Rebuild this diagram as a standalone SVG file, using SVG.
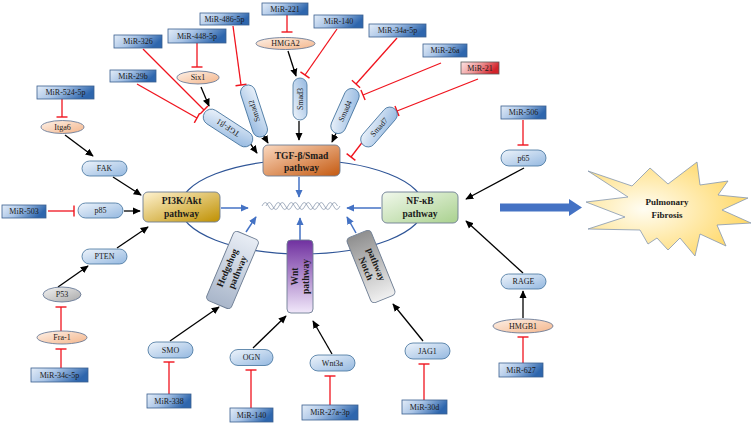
<svg xmlns="http://www.w3.org/2000/svg" width="753" height="426" viewBox="0 0 753 426">
<defs>
<linearGradient id="gMir" x1="0" y1="0" x2="1" y2="0.3"><stop offset="0" stop-color="#e4edf8"/><stop offset="0.45" stop-color="#a9c4e6"/><stop offset="1" stop-color="#2e66ad"/></linearGradient>
<linearGradient id="gRed" x1="0" y1="0" x2="1" y2="0.3"><stop offset="0" stop-color="#fbe3e3"/><stop offset="0.5" stop-color="#ef9a9a"/><stop offset="1" stop-color="#d2232a"/></linearGradient>
<linearGradient id="gPill" x1="0" y1="0" x2="1" y2="1"><stop offset="0" stop-color="#eef4fb"/><stop offset="1" stop-color="#94b8e0"/></linearGradient>
<linearGradient id="gPeach" x1="0" y1="0" x2="1" y2="1"><stop offset="0" stop-color="#fdf1e8"/><stop offset="1" stop-color="#f4b58a"/></linearGradient>
<linearGradient id="gGray" x1="0" y1="0" x2="1" y2="1"><stop offset="0" stop-color="#f4f4f4"/><stop offset="1" stop-color="#a8a8a8"/></linearGradient>
<linearGradient id="gTgf" x1="0" y1="0" x2="1" y2="1"><stop offset="0" stop-color="#fbd9c0"/><stop offset="1" stop-color="#c55a11"/></linearGradient>
<linearGradient id="gPi3k" x1="0" y1="0" x2="1" y2="1"><stop offset="0" stop-color="#fff3d1"/><stop offset="1" stop-color="#bf9000"/></linearGradient>
<linearGradient id="gNf" x1="0" y1="0" x2="1" y2="1"><stop offset="0" stop-color="#f1f8ec"/><stop offset="1" stop-color="#a9d18e"/></linearGradient>
<linearGradient id="gWnt" x1="0" y1="0" x2="0" y2="1"><stop offset="0" stop-color="#7030a0"/><stop offset="1" stop-color="#f1e8fa"/></linearGradient>
<linearGradient id="gHh" x1="0" y1="0" x2="0" y2="1"><stop offset="0" stop-color="#e8edf5"/><stop offset="1" stop-color="#a9b6ca"/></linearGradient>
<linearGradient id="gNotch" x1="0" y1="0" x2="0" y2="1"><stop offset="0" stop-color="#8f8f8f"/><stop offset="1" stop-color="#f0f0f0"/></linearGradient>
<radialGradient id="gStar" cx="0.35" cy="0.5" r="0.7"><stop offset="0" stop-color="#fffdf3"/><stop offset="1" stop-color="#ffd55c"/></radialGradient>
<marker id="arr" viewBox="0 0 10 10" refX="9" refY="5" markerWidth="8" markerHeight="8" markerUnits="userSpaceOnUse" orient="auto"><path d="M0,0.5 L10,5 L0,9.5 z" fill="#000"/></marker>
<marker id="arrB" viewBox="0 0 10 10" refX="9" refY="5" markerWidth="8" markerHeight="8" markerUnits="userSpaceOnUse" orient="auto"><path d="M0,0.5 L10,5 L0,9.5 z" fill="#4472c4"/></marker>
<marker id="tee" viewBox="-2 -6 4 12" refX="0" refY="0" markerWidth="4" markerHeight="12" markerUnits="userSpaceOnUse" orient="auto"><line x1="0" y1="-5.5" x2="0" y2="5.5" stroke="#f0141e" stroke-width="1.4"/></marker>
</defs>
<style>
.mir{fill:url(#gMir);stroke:#3a5f8f;stroke-width:0.8}
.mirr{fill:url(#gRed);stroke:#5a5a5a;stroke-width:0.8}
.pill{fill:url(#gPill);stroke:#41719c;stroke-width:0.8}
.peach{fill:url(#gPeach);stroke:#5b6f8f;stroke-width:0.8}
.gray{fill:url(#gGray);stroke:#5b6f8f;stroke-width:0.8}
.t{font-family:"Liberation Serif",serif;font-size:8px;fill:#1a1a1a;text-anchor:middle}
.pw{font-family:"Liberation Serif",serif;font-weight:bold;font-size:9.5px;fill:#1a1a1a;text-anchor:middle}
.act{stroke:#000;stroke-width:1.3;fill:none;marker-end:url(#arr)}
.inh{stroke:#f0141e;stroke-width:1.3;fill:none;marker-end:url(#tee)}
.blu{stroke:#4472c4;stroke-width:1.5;fill:none;marker-end:url(#arrB)}
.box{stroke:#6d7d93;stroke-width:0.9}
</style>
<rect width="753" height="426" fill="#fff"/>

<ellipse id="ring" cx="302" cy="207" rx="122" ry="47" fill="none" stroke="#2f5597" stroke-width="1.2"/>

<g id="wave" fill="none" stroke="#7f8fa6" stroke-width="0.7">
<path d="M262,206 q3.25,-7 6.5,0 t6.5,0 t6.5,0 t6.5,0 t6.5,0 t6.5,0 t6.5,0 t6.5,0 t6.5,0 t6.5,0 t6.5,0 t6.5,0"/>
<path d="M266,206 q3.25,-7 6.5,0 t6.5,0 t6.5,0 t6.5,0 t6.5,0 t6.5,0 t6.5,0 t6.5,0 t6.5,0 t6.5,0 t6.5,0"/>
</g>

<g id="connectors">
<path class="act" d="M65,135 L93,156"/>
<path class="act" d="M113,177 L141,195"/>
<path class="act" d="M124,211 L140,211"/>
<path class="act" d="M117,248 L148,227"/>
<path class="act" d="M58,287 L88,266"/>
<path class="act" d="M201,87 L209,106"/>
<path class="act" d="M247,139 L257,153"/>
<path class="act" d="M261,131 L268,143"/>
<path class="act" d="M288,51 L296,76"/>
<path class="act" d="M299,121 L299,140"/>
<path class="act" d="M338,129 L332,142"/>
<path class="act" d="M524,168 L466,199"/>
<path class="act" d="M523,273 L466,221"/>
<path class="act" d="M523,318 L523,291"/>
<path class="act" d="M170,341 L219,307"/>
<path class="act" d="M253,348 L286,316"/>
<path class="act" d="M332,354 L313,321"/>
<path class="act" d="M423,341 L393,304"/>

<path class="inh" d="M62,99 L62,117"/>
<path class="inh" d="M137,84 L197,118"/>
<path class="inh" d="M143,49 L204,110"/>
<path class="inh" d="M197,43 L197,67"/>
<path class="inh" d="M233,26 L241,85"/>
<path class="inh" d="M287,15 L287,32"/>
<path class="inh" d="M337,29 L305,75"/>
<path class="inh" d="M397,38 L356,84"/>
<path class="inh" d="M441,63 L363,95"/>
<path class="inh" d="M478,79 L397,111"/>
<path class="inh" d="M364,140 L351,157"/>
<path class="inh" d="M523,120 L523,145"/>
<path class="inh" d="M48,211 L74,211"/>
<path class="inh" d="M61,368 L61,349"/>
<path class="inh" d="M61,331 L61,307"/>
<path class="inh" d="M169,394 L169,362"/>
<path class="inh" d="M251,408 L251,370"/>
<path class="inh" d="M330,405 L330,376"/>
<path class="inh" d="M424,400 L424,364"/>
<path class="inh" d="M523,363 L523,337"/>

<path class="blu" d="M299,177 L299,197"/>
<path class="blu" d="M221,208 L248,208"/>
<path class="blu" d="M381,208 L347,208"/>
<path class="blu" d="M300,240 L300,218"/>
<path class="blu" d="M246,232 L256,217"/>
<path class="blu" d="M356,233 L347,217"/>
<polygon points="500,203.5 569,203.5 569,199 582,207.5 569,216 569,211.5 500,211.5" fill="#4472c4"/>
</g>

<!-- pathway boxes -->
<g id="tgf"><rect class="box" x="263" y="145" width="77" height="31" rx="5" fill="url(#gTgf)"/><text class="pw" x="301.5" y="158.5">TGF-β/Smad</text><text class="pw" x="301.5" y="171">pathway</text></g>
<g id="pi3k"><rect class="box" x="143" y="192" width="77" height="30" rx="5" fill="url(#gPi3k)"/><text class="pw" x="181.5" y="204">PI3K/Akt</text><text class="pw" x="181.5" y="216.5">pathway</text></g>
<g id="nfkb"><rect class="box" x="382" y="192" width="76" height="31" rx="5" fill="url(#gNf)"/><text class="pw" x="420" y="204">NF-κB</text><text class="pw" x="420" y="216.5">pathway</text></g>
<g id="wnt" transform="translate(300,276.5)"><rect class="box" x="-13" y="-36.5" width="26" height="73" rx="4" fill="url(#gWnt)"/><g transform="rotate(-90)"><text class="pw" x="0" y="-2.5">Wnt</text><text class="pw" x="0" y="8.5">pathway</text></g></g>
<g id="hedgehog" transform="translate(232.5,270) rotate(23)"><rect class="box" x="-13.5" y="-37.5" width="27" height="75" rx="4" fill="url(#gHh)"/><g transform="rotate(-90)"><text class="pw" x="0" y="-2.5">Hedgehog</text><text class="pw" x="0" y="8.5">pathway</text></g></g>
<g id="notch" transform="translate(371,266.5) rotate(-22)"><rect class="box" x="-13" y="-35" width="26" height="70" rx="4" fill="url(#gNotch)"/><g transform="rotate(90)"><text class="pw" x="0" y="-2.5">pathway</text><text class="pw" x="0" y="8.5">Notch</text></g></g>

<g id="fibrosis"><polygon points="588,171 632,186 650,168 668,184 697,162 700,185 728,181 718,195 748,198 722,210 751,223 717,225 726,246 700,234 695,256 680,238 668,250 657,238 648,244 640,230 588,229 625,217 586,202 628,197" fill="url(#gStar)" stroke="#8497b0" stroke-width="0.8"/><text class="pw" x="667" y="205" style="font-size:9px">Pulmonary</text><text class="pw" x="667" y="218" style="font-size:9px">Fibrosis</text></g>

<!-- miRNA boxes -->
<g id="mir524"><rect class="mir" x="37" y="86" width="57" height="13"/><text class="t" x="65.5" y="95.3">MiR-524-5p</text></g>
<g id="mir29b"><rect class="mir" x="110" y="70" width="46" height="12"/><text class="t" x="133" y="78.8">MiR-29b</text></g>
<g id="mir326"><rect class="mir" x="114" y="35" width="48" height="13"/><text class="t" x="138" y="44.3">MiR-326</text></g>
<g id="mir448"><rect class="mir" x="168" y="29" width="58" height="14"/><text class="t" x="197" y="38.8">MiR-448-5p</text></g>
<g id="mir486"><rect class="mir" x="200" y="13" width="49" height="12"/><text class="t" x="224.5" y="21.8">MiR-486-5p</text></g>
<g id="mir221"><rect class="mir" x="262" y="3" width="46" height="12"/><text class="t" x="285" y="11.8">MiR-221</text></g>
<g id="mir140a"><rect class="mir" x="314" y="15" width="49" height="13"/><text class="t" x="338.5" y="24.3">MiR-140</text></g>
<g id="mir34a"><rect class="mir" x="369" y="24" width="57" height="13"/><text class="t" x="397.5" y="33.3">MiR-34a-5p</text></g>
<g id="mir26a"><rect class="mir" x="423" y="44" width="44" height="13"/><text class="t" x="445" y="53.3">MiR-26a</text></g>
<g id="mir21"><rect class="mirr" x="461" y="62" width="38" height="12"/><text class="t" x="480" y="70.8">MiR-21</text></g>
<g id="mir506"><rect class="mir" x="501" y="106" width="45" height="13"/><text class="t" x="523.5" y="115.3">MiR-506</text></g>
<g id="mir503"><rect class="mir" x="2" y="205" width="44" height="13"/><text class="t" x="24" y="214.3">MiR-503</text></g>
<g id="mir34c"><rect class="mir" x="31" y="368" width="57" height="14"/><text class="t" x="59.5" y="377.8">MiR-34c-5p</text></g>
<g id="mir338"><rect class="mir" x="147" y="394" width="44" height="14"/><text class="t" x="169" y="403.8">MiR-338</text></g>
<g id="mir140b"><rect class="mir" x="230" y="408" width="43" height="14"/><text class="t" x="251.5" y="417.8">MiR-140</text></g>
<g id="mir27a"><rect class="mir" x="302" y="405" width="56" height="15"/><text class="t" x="330" y="415.3">MiR-27a-3p</text></g>
<g id="mir30d"><rect class="mir" x="402" y="400" width="45" height="14"/><text class="t" x="424.5" y="409.8">MiR-30d</text></g>
<g id="mir627"><rect class="mir" x="499" y="363" width="44" height="14"/><text class="t" x="521" y="372.8">MiR-627</text></g>

<!-- protein pills -->
<g id="fak"><rect class="pill" x="82" y="161" width="45" height="15" rx="7.5"/><text class="t" x="104.5" y="171.3">FAK</text></g>
<g id="p85"><rect class="pill" x="78" y="203" width="45" height="15" rx="7.5"/><text class="t" x="100.5" y="213.3">p85</text></g>
<g id="pten"><rect class="pill" x="82" y="249" width="45" height="15" rx="7.5"/><text class="t" x="104.5" y="259.3">PTEN</text></g>
<g id="p65"><rect class="pill" x="501" y="150" width="45" height="16" rx="8"/><text class="t" x="523.5" y="160.8">p65</text></g>
<g id="rage"><rect class="pill" x="501" y="274" width="45" height="15" rx="7.5"/><text class="t" x="523.5" y="284.3">RAGE</text></g>
<g id="smo"><rect class="pill" x="148" y="342" width="45" height="16" rx="8"/><text class="t" x="170.5" y="352.8">SMO</text></g>
<g id="ogn"><rect class="pill" x="230" y="349.5" width="43" height="16" rx="8"/><text class="t" x="251.5" y="360.3">OGN</text></g>
<g id="wnt3a"><rect class="pill" x="310" y="355" width="45" height="16" rx="8"/><text class="t" x="332.5" y="365.8">Wnt3a</text></g>
<g id="jag1"><rect class="pill" x="405" y="343" width="45" height="16" rx="8"/><text class="t" x="427.5" y="353.8">JAG1</text></g>
<g id="tgfb1" transform="translate(228,128) rotate(33)"><rect class="pill" x="-28" y="-8" width="56" height="16" rx="8"/><text class="t" transform="rotate(180)" x="0" y="2.8">TGF-β1</text></g>
<g id="smad2" transform="translate(254,111) rotate(72)"><rect class="pill" x="-27" y="-7.5" width="54" height="15" rx="7.5"/><text class="t" transform="rotate(180)" x="0" y="2.8">Smad2</text></g>
<g id="smad3" transform="translate(300,99) rotate(-90)"><rect class="pill" x="-21" y="-7" width="42" height="14" rx="7"/><text class="t" x="0" y="2.8">Smad3</text></g>
<g id="smad4" transform="translate(345,111) rotate(-66)"><rect class="pill" x="-24" y="-7.5" width="48" height="15" rx="7.5"/><text class="t" x="0" y="2.8">Smad4</text></g>
<g id="smad7" transform="translate(379,127) rotate(-49)"><rect class="pill" x="-24" y="-7.5" width="48" height="15" rx="7.5"/><text class="t" x="0" y="2.8">Smad7</text></g>

<!-- ellipse nodes -->
<g id="itga6"><ellipse class="peach" cx="62.5" cy="127" rx="21.5" ry="6.5"/><text class="t" x="62.5" y="129.8">Itga6</text></g>
<g id="six1"><ellipse class="peach" cx="198" cy="77.5" rx="21" ry="6.5"/><text class="t" x="198" y="80.3">Six1</text></g>
<g id="hmga2"><ellipse class="peach" cx="285.5" cy="43.5" rx="29.5" ry="6"/><text class="t" x="285.5" y="46.3">HMGA2</text></g>
<g id="p53"><ellipse class="gray" cx="62" cy="294.5" rx="19" ry="7.5"/><text class="t" x="62" y="297.3">P53</text></g>
<g id="fra1"><ellipse class="peach" cx="62" cy="337.5" rx="25" ry="6.5"/><text class="t" x="62" y="340.3">Fra-1</text></g>
<g id="hmgb1"><ellipse class="peach" cx="523" cy="326" rx="30" ry="7"/><text class="t" x="523" y="328.8">HMGB1</text></g>
</svg>
